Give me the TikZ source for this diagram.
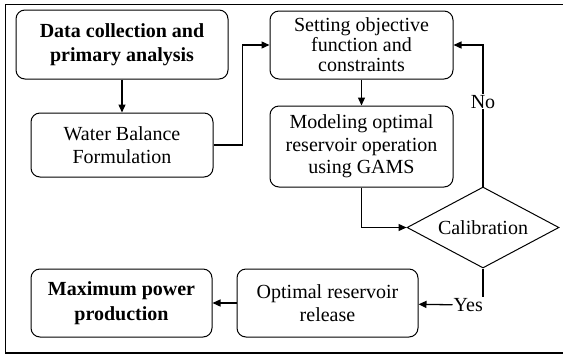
\documentclass[tikz,border=0pt]{standalone}
\usepackage{fontspec}
\setmainfont{Liberation Serif}
\usepackage{tikz}
\usetikzlibrary{positioning, shapes.geometric, arrows.meta}

\begin{document}
\begin{tikzpicture}[x=1pt, y=-1pt,
  box/.style={draw, line width=1pt, rounded corners=9pt, align=center, inner sep=0pt, minimum width=182pt, minimum height=68pt, font=\fontsize{20}{22.5}\selectfont},
  boldbox/.style={box, font=\fontsize{20}{24.5}\selectfont\bfseries},
  decision/.style={draw, line width=1pt, diamond, aspect=1.88, inner sep=0pt, minimum width=152pt, minimum height=81pt, font=\fontsize{20}{22.5}\selectfont},
  lbl/.style={fill=white, inner sep=1pt, font=\fontsize{20}{22.5}\selectfont},
  arr/.style={-{Triangle[length=8pt, width=7pt]}, line width=1.3pt}
]
  \useasboundingbox (0,0) rectangle (563,360);
  \draw[line width=1.8pt] (5.5,4.5) rectangle (575,353);

  \node[boldbox, minimum width=212pt, minimum height=69pt] (data) at (122,44.5) {Data collection and\\primary analysis};
  \node[box, minimum height=64pt] (water) at (122,145) {Water Balance\\Formulation};
  \node[box, minimum width=183pt, font=\fontsize{20}{20}\selectfont] (setting) at (361.5,45) {Setting objective\\function and\\constraints};
  \node[box, minimum width=183pt, minimum height=81pt] (modeling) at (361.5,146.5) {Modeling optimal\\reservoir operation\\using GAMS};
  \node[decision] (calib) at (483,227.5) {Calibration};
  \node[box, minimum width=181pt] (optimal) at (327.5,303) {Optimal reservoir\\release};
  \node[boldbox, minimum width=181pt] (maxpow) at (121.5,303) {Maximum power\\production};
  \node[lbl, anchor=east] (yes) at (484,305) {Yes};

  \draw[arr] (data) -- (water);
  \draw[arr] (water.east) -- ++(29,0) |- (setting.west);
  \draw[arr] (setting) -- (modeling);
  \draw[arr] (modeling.south) |- (calib.west);
  \draw[arr] (calib.north) |- node[lbl, pos=0.3] {No} (setting.east);
  \draw[line width=1.3pt] (calib.south) -- (calib.south |- yes.north);
  \draw[arr] (yes) -- (optimal);
  \draw[arr] (optimal) -- (maxpow);
\end{tikzpicture}
\end{document}
